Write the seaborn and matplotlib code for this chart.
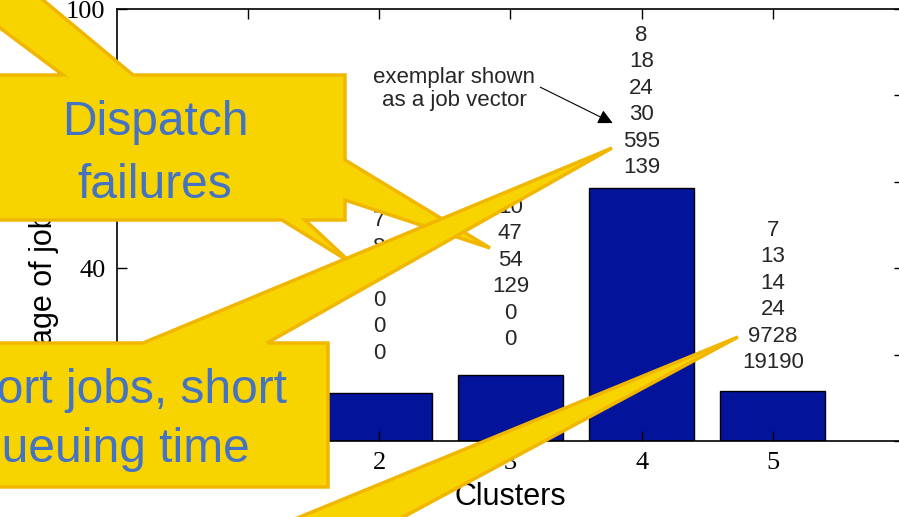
import pandas as pd
import matplotlib
matplotlib.use("Agg")
import matplotlib.pyplot as plt
from matplotlib.patches import Polygon
import seaborn as sns

# Datos de las barras (porcentaje de trabajos por cluster)
clusters = [1, 2, 3, 4, 5]
pct_jobs = [3.4, 11.1, 15.3, 58.6, 11.6]

# Vectores de trabajo (exemplar) escritos encima de cada barra
vec_c2 = ["7", "8", "0", "0", "0", "0"]
vec_c3 = ["10", "47", "54", "129", "0", "0"]
vec_c4 = ["8", "18", "24", "30", "595", "139"]
vec_c5 = ["7", "13", "14", "24", "9728", "19190"]
vec_clusters = [2, 3, 4, 5]

y_ticks = [0, 20, 40, 60, 80, 100]
x_ticks = [1, 2, 3, 4, 5]

# separacion (px) entre la barra y la ultima linea del vector
label_gap = [40, 35, 20, 28]
line_px = 26.5

bar_color = "#03139a"
yellow = "#f7d300"
yellow_edge = "#f0b600"
blue_txt = "#4472c4"

fig = plt.figure(figsize=(8.99, 5.17), dpi=100)
# el eje derecho queda un poco fuera de la imagen (recortado en el original)
ax = fig.add_axes([116.75 / 899, 76 / 517, (904 - 116.75) / 899, (441 - 9) / 517])

df = pd.DataFrame({"cluster": clusters, "pct": pct_jobs})
sns.barplot(data=df, x="cluster", y="pct", native_scale=True, color=bar_color,
            saturation=1, edgecolor="black", linewidth=1, width=0.8, ax=ax)

ax.set_xlim(0, 6)
ax.set_ylim(0, 100)
ax.set_xticks(x_ticks)
ax.set_xticklabels([str(t) for t in x_ticks])
ax.set_yticks(y_ticks)
ax.set_yticklabels([str(t) for t in y_ticks])
ax.tick_params(direction="in", top=True, right=True, length=7, width=1, pad=8)
for lbl in ax.get_xticklabels() + ax.get_yticklabels():
    lbl.set_family("Liberation Serif")
    lbl.set_fontsize(19)
for s in ax.spines.values():
    s.set_linewidth(1.2)
    s.set_color("black")

ax.set_xlabel("Clusters", family="Liberation Sans", fontsize=22, labelpad=6)
ax.set_ylabel("Percentage of jobs", family="Liberation Sans", fontsize=22)
ax.yaxis.set_label_coords(-0.073, 0.273)

# Columnas de numeros sobre las barras
for xc, vec, gap in zip(vec_clusters, [vec_c2, vec_c3, vec_c4, vec_c5], label_gap):
    h = pct_jobs[clusters.index(xc)]
    n = len(vec)
    for j, val in enumerate(vec):
        ax.annotate(val, (xc, h), xytext=(0, gap + (n - 1 - j) * line_px),
                    textcoords="offset pixels", ha="center", va="center",
                    family="Liberation Sans", fontsize=16, color="#262626")

ax.annotate("exemplar shown\nas a job vector", xy=(3.78, 73.6), xytext=(2.57, 81.5),
            ha="center", va="center", family="Liberation Sans", fontsize=16,
            color="#262626", linespacing=1.1,
            arrowprops=dict(arrowstyle="-|>", color="black", lw=0.8,
                            mutation_scale=22, shrinkA=2, shrinkB=0,
                            relpos=(1.0, 0.6)))

# Capa de globos amarillos (coordenadas en pixeles de la imagen)
ov = fig.add_axes([0, 0, 1, 1], zorder=10)
ov.set_xlim(0, 899)
ov.set_ylim(517, 0)
ov.axis("off")
ov.patch.set_alpha(0)

callout_c = [(738, 337), (200, 558), (327, 558)]
callout_a = [(-40, 75), (63, 75), (-20, 13), (-20, -20), (19, -20), (133, 75),
             (345, 75), (345, 160), (490, 248), (345, 200), (345, 220),
             (305, 220), (350, 262), (282, 220), (-40, 220)]
callout_b = [(-110, 343), (143, 343), (612, 148), (267, 343), (328, 343),
             (328, 487), (-110, 487)]
for pts in [callout_c, callout_a, callout_b]:
    ov.add_patch(Polygon(pts, closed=True, facecolor=yellow,
                         edgecolor=yellow_edge, linewidth=2.5, joinstyle="miter"))

ov.text(155, 154, "Dispatch\nfailures", ha="center", va="center",
        family="Liberation Sans", fontsize=34.5, color=blue_txt, linespacing=1.5)
ov.text(112, 420, "Short jobs, short\nqueuing time", ha="center", va="center",
        family="Liberation Sans", fontsize=34.5, color=blue_txt, linespacing=1.4)

fig.savefig("out.png", dpi=100)
